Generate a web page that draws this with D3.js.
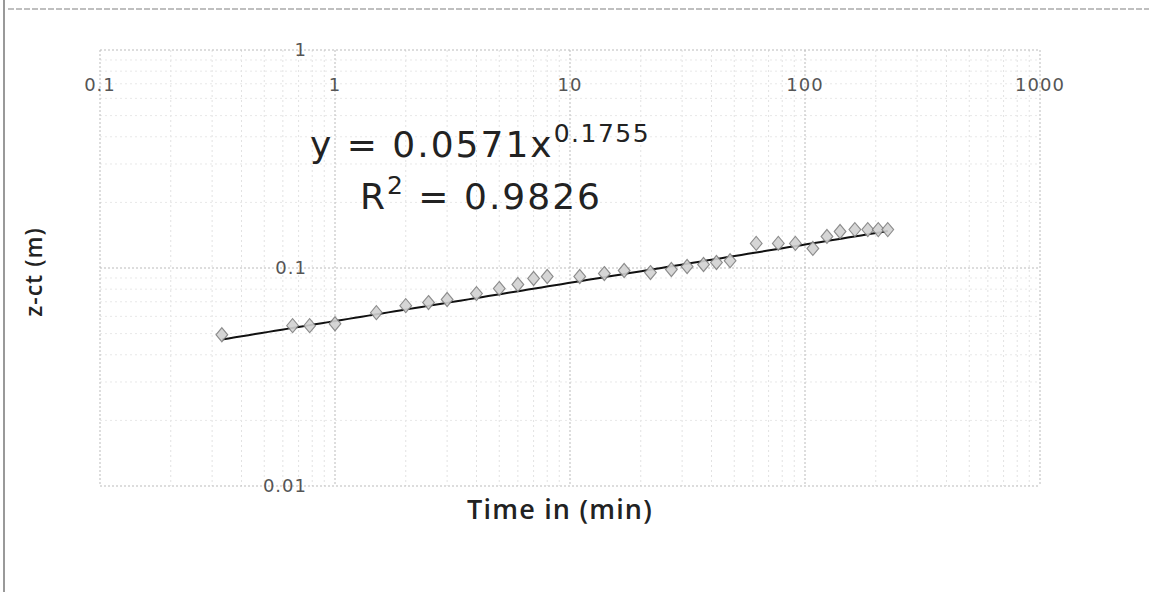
<!DOCTYPE html>
<html>
<head>
<meta charset="utf-8">
<script src="https://d3js.org/d3.v7.min.js"></script>
<style>
  body { margin: 0; background: #fff; }
  svg { display: block; }
</style>
</head>
<body>
<script>
    const W = 1149, H = 592
    // measured points: time (min) vs z-ct (m)
    const timeMin = [0.33, 0.66, 0.78, 1.0, 1.5, 2.0, 2.5, 3.0, 4.0, 5.0, 6.0, 7.0, 8.0, 11, 14, 17, 22, 27, 31.5, 37, 42, 48,
        62, 77, 91, 108, 124, 141, 163, 185, 205, 225]
    const zct = [0.0494, 0.0544, 0.0544, 0.0555, 0.0624, 0.0672, 0.0694, 0.0717, 0.0763, 0.0805, 0.084, 0.0895, 0.0914, 0.0914,
        0.0943, 0.0974, 0.0953, 0.0984, 0.1016, 0.1038, 0.106, 0.108,
        0.1297, 0.1297, 0.1297, 0.123, 0.1396, 0.147, 0.150, 0.150, 0.150, 0.150]
    const xTicks = [0.1, 1, 10, 100, 1000]
    const yTicks = [0.01, 0.1, 1]
    const fitA = 0.0571, fitB = 0.1755

    const svg = d3.select("body").append("svg").attr("width", W).attr("height", H)

    // scan frame
    svg.append("line").attr("x1", 4).attr("x2", 4).attr("y1", 0).attr("y2", H)
        .attr("stroke", "#999").attr("stroke-width", 2)
    svg.append("line").attr("x1", 8).attr("x2", W).attr("y1", 9).attr("y2", 9)
        .attr("stroke", "#aaa").attr("stroke-width", 1.5).attr("stroke-dasharray", "6,2")

    const x = d3.scaleLog().domain([0.1, 1000]).range([100, 1040])
    const y = d3.scaleLog().domain([0.01, 1]).range([486, 50])

    // minor grid
    const minorX = x.ticks().filter(v => !xTicks.includes(v))
    const minorY = y.ticks().filter(v => !yTicks.includes(v))
    svg.append("g").selectAll("line").data(minorX).join("line")
        .attr("x1", d => x(d)).attr("x2", d => x(d)).attr("y1", 50).attr("y2", 486)
        .attr("stroke", "#e2e2e2").attr("stroke-dasharray", "2,3")
    svg.append("g").selectAll("line").data(minorY).join("line")
        .attr("y1", d => y(d)).attr("y2", d => y(d)).attr("x1", 100).attr("x2", 1040)
        .attr("stroke", "#e8e8e8").attr("stroke-dasharray", "2,3")
    // major grid
    svg.append("g").selectAll("line").data(xTicks).join("line")
        .attr("x1", d => x(d)).attr("x2", d => x(d)).attr("y1", 50).attr("y2", 486)
        .attr("stroke", "#bbb").attr("stroke-dasharray", "2,2")
    svg.append("g").selectAll("line").data(yTicks).join("line")
        .attr("y1", d => y(d)).attr("y2", d => y(d)).attr("x1", 100).attr("x2", 1040)
        .attr("stroke", "#bbb").attr("stroke-dasharray", "2,2")

    // tick labels
    svg.append("g").selectAll("text").data(xTicks).join("text")
        .attr("x", d => x(d)).attr("y", 91).attr("text-anchor", "middle")
        .attr("font-family", "DejaVu Sans").attr("font-size", 18).attr("letter-spacing", 1).attr("fill", "#555")
        .text(d => String(d))
    svg.append("g").selectAll("text").data(yTicks).join("text")
        .attr("x", 307).attr("y", d => y(d) + 6).attr("text-anchor", "end")
        .attr("font-family", "DejaVu Sans").attr("font-size", 18).attr("letter-spacing", 1).attr("fill", "#555")
        .text(d => String(d))

    // trendline
    const fitX = d3.range(0, 101).map(i => Math.exp(Math.log(timeMin[0]) + i / 100 * (Math.log(timeMin[timeMin.length - 1]) - Math.log(timeMin[0]))))
    svg.append("path").datum(fitX)
        .attr("d", d3.line().x(d => x(d)).y(d => y(fitA * Math.pow(d, fitB))))
        .attr("fill", "none").attr("stroke", "#111").attr("stroke-width", 2)

    // markers
    svg.append("g").selectAll("path").data(timeMin).join("path")
        .attr("d", d3.symbol(d3.symbolDiamond, 70))
        .attr("transform", (d, i) => `translate(${x(d)},${y(zct[i])}) scale(1.3,0.9)`)
        .attr("fill", "#d2d2d2").attr("stroke", "#808080").attr("stroke-width", 1)
        .attr("opacity", 0.9)

    // equation
    const eq = svg.append("text").attr("x", 310).attr("y", 157)
        .attr("font-family", "DejaVu Sans").attr("font-size", 36).attr("letter-spacing", 2).attr("fill", "#222")
    eq.append("tspan").text("y = 0.0571x")
    eq.append("tspan").attr("dy", -15).attr("font-size", 25).attr("letter-spacing", 1.5).text("0.1755")
    const r2 = svg.append("text").attr("x", 360).attr("y", 209)
        .attr("font-family", "DejaVu Sans").attr("font-size", 36).attr("letter-spacing", 2).attr("fill", "#222")
    r2.append("tspan").text("R")
    r2.append("tspan").attr("dy", -15).attr("font-size", 25).text("2")
    r2.append("tspan").attr("dy", 15).text(" = 0.9826")

    // axis titles
    svg.append("text").attr("x", 560).attr("y", 519).attr("text-anchor", "middle")
        .attr("font-family", "Open Sans").attr("font-weight", 600).attr("font-size", 27).attr("letter-spacing", 1.2)
        .attr("fill", "#222")
        .text("Time in (min)")
    svg.append("text").attr("transform", "translate(42,272) rotate(-90)").attr("text-anchor", "middle")
        .attr("font-family", "Open Sans").attr("font-weight", 600).attr("font-size", 23).attr("letter-spacing", 1)
        .attr("fill", "#222")
        .text("z-ct (m)")
</script>
</body>
</html>
